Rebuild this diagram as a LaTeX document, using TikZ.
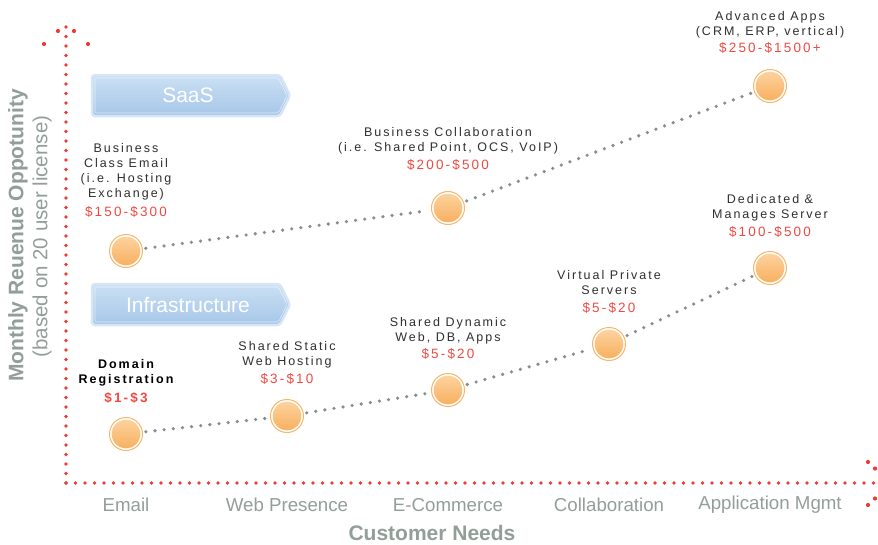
\documentclass[tikz,border=0pt]{standalone}
\usepackage{fontspec}
\setmainfont{Liberation Sans}
\newfontfamily\trackfont[LetterSpace=16]{Liberation Sans}
\usetikzlibrary{calc}
\definecolor{axisred}{HTML}{EE3B33}
\definecolor{pricered}{HTML}{EE4A42}
\definecolor{linkgray}{HTML}{84918B}
\definecolor{labelgray}{HTML}{929E98}
\definecolor{txtdark}{HTML}{2E2E2E}
\definecolor{orbedge}{HTML}{F7B566}
\definecolor{orbtop}{HTML}{FCD29E}
\definecolor{orbbot}{HTML}{F8B060}
\definecolor{bantop}{HTML}{CBE0F4}
\definecolor{banbot}{HTML}{A6C6E8}
\definecolor{banedge}{HTML}{D6E6F7}
\begin{document}
\begin{tikzpicture}[x=1pt,y=-1pt,
  axisdots/.style={axisred, line width=3.6pt, line cap=round, dash pattern=on 0pt off 9.5pt},
  headdot/.style={fill=axisred},
  linkdots/.style={linkgray, line width=3.6pt, line cap=round, dash pattern=on 0pt off 9.2pt, shorten <=3pt, shorten >=3pt},
  orb/.style={circle, minimum size=33pt, inner sep=0pt, draw=orbedge, line width=1pt, fill=white},
  desc/.style={align=center, text=txtdark, font=\trackfont\fontsize{12.5}{15}\selectfont, inner sep=0pt},
  descb/.style={align=center, text=black, font=\trackfont\bfseries\fontsize{12.5}{15}\selectfont, inner sep=0pt},
  price/.style={text=pricered, font=\trackfont\fontsize{13.5}{15}\selectfont, inner sep=0pt},
  priceb/.style={text=pricered, font=\trackfont\bfseries\fontsize{13.5}{15}\selectfont, inner sep=0pt},
  xlab/.style={text=labelgray, font=\fontsize{18.7}{20}\selectfont, inner sep=0pt},
  bantext/.style={text=white, font=\fontsize{21}{24}\selectfont, inner sep=0pt}
]
\useasboundingbox (0,0) rectangle (878,544);

% axes
\coordinate (origin) at (66,483);
\coordinate (ytip) at (66,24);
\coordinate (xtip) at (882,483);
\draw[axisdots] (origin) -- (ytip);
\draw[axisdots] (origin) -- (xtip);
\foreach \p in {(44,44),(58,31),(74,31),(88,44),(868,462),(875,468.5),(868,505),(875,498.5)}
  \fill[headdot] \p circle (2.1pt);

% banners
\newcommand{\banner}[3]{%
  \shade[top color=bantop, bottom color=banbot, draw=banedge, line width=2.5pt, rounded corners=3pt]
    (92,#1) -- (280,#1) -- (290,#1+20.5) -- (280,#1+41) -- (92,#1+41) -- cycle;
  \draw[white, line width=0.6pt, opacity=0.6, rounded corners=2pt]
    (95,#1+3) -- (278.5,#1+3) -- (287,#1+20.5) -- (278.5,#1+38) -- (95,#1+38) -- cycle;
  \node[bantext] (#3) at (188,#1+20.5) {#2};}
\banner{75}{SaaS}{saas}
\banner{284}{Infrastructure}{infra}

% orbs
\newcommand{\orb}[3]{%
  \node[orb] (#1) at (#2,#3) {};
  \shade[top color=orbtop, bottom color=orbbot] (#2,#3) circle (14.3pt);}
\orb{email}{126}{251}
\orb{collab}{448}{208}
\orb{adv}{770}{86}
\orb{domain}{126}{434}
\orb{static}{287}{416}
\orb{dynamic}{448}{390}
\orb{vps}{609}{344}
\orb{dedic}{770}{268}

% connectors
\draw[linkdots] (email) -- (collab);
\draw[linkdots] (collab) -- (adv);
\draw[linkdots] (domain) -- (static);
\draw[linkdots] (static) -- (dynamic);
\draw[linkdots] (dynamic) -- (vps);
\draw[linkdots] (vps) -- (dedic);

% descriptions (anchor = baseline of last line)
\node[desc, anchor=base] (t1) at (126,197) {Business\\Class Email\\(i.e. Hosting\\Exchange)};
\node[price, anchor=base] (p1) at (126,216) {\$150-\$300};
\node[desc, anchor=base] (t2) at (448,151) {Business Collaboration\\(i.e. Shared Point, OCS, VoIP)};
\node[price, anchor=base] (p2) at (448,169) {\$200-\$500};
\node[desc, anchor=base] (t3) at (770,35) {Advanced Apps\\(CRM, ERP, vertical)};
\node[price, anchor=base] (p3) at (770,52) {\$250-\$1500+};
\node[descb, anchor=base] (t4) at (126,383) {Domain\\Registration};
\node[priceb, anchor=base] (p4) at (126,402) {\$1-\$3};
\node[desc, anchor=base] (t5) at (287,365) {Shared Static\\Web Hosting};
\node[price, anchor=base] (p5) at (287,383) {\$3-\$10};
\node[desc, anchor=base] (t6) at (448,341) {Shared Dynamic\\Web, DB, Apps};
\node[price, anchor=base] (p6) at (448,358) {\$5-\$20};
\node[desc, anchor=base] (t7) at (609,294) {Virtual Private\\Servers};
\node[price, anchor=base] (p7) at (609,312) {\$5-\$20};
\node[desc, anchor=base] (t8) at (770,218) {Dedicated \&\\Manages Server};
\node[price, anchor=base] (p8) at (770,236) {\$100-\$500};

% x labels
\node[xlab] (x1) at (126,505) {Email};
\node[xlab] (x2) at (287,505) {Web Presence};
\node[xlab] (x3) at (448,505) {E-Commerce};
\node[xlab] (x4) at (609,505) {Collaboration};
\node[xlab] (x5) at (770,505) {Application Mgmt};
\node[text=labelgray, font=\bfseries\fontsize{21}{24}\selectfont, inner sep=0pt] (xt) at (432,533) {Customer Needs};

% y labels
\node[rotate=90, text=labelgray, font=\bfseries\fontsize{21}{24}\selectfont, inner sep=0pt] (yt) at (18,235.5) {Monthly Reuenue Oppotunity};
\node[rotate=90, text=labelgray, font=\fontsize{20.5}{22}\selectfont, inner sep=0pt] (ys) at (42,236.5) {(based on 20 user license)};
\end{tikzpicture}
\end{document}
